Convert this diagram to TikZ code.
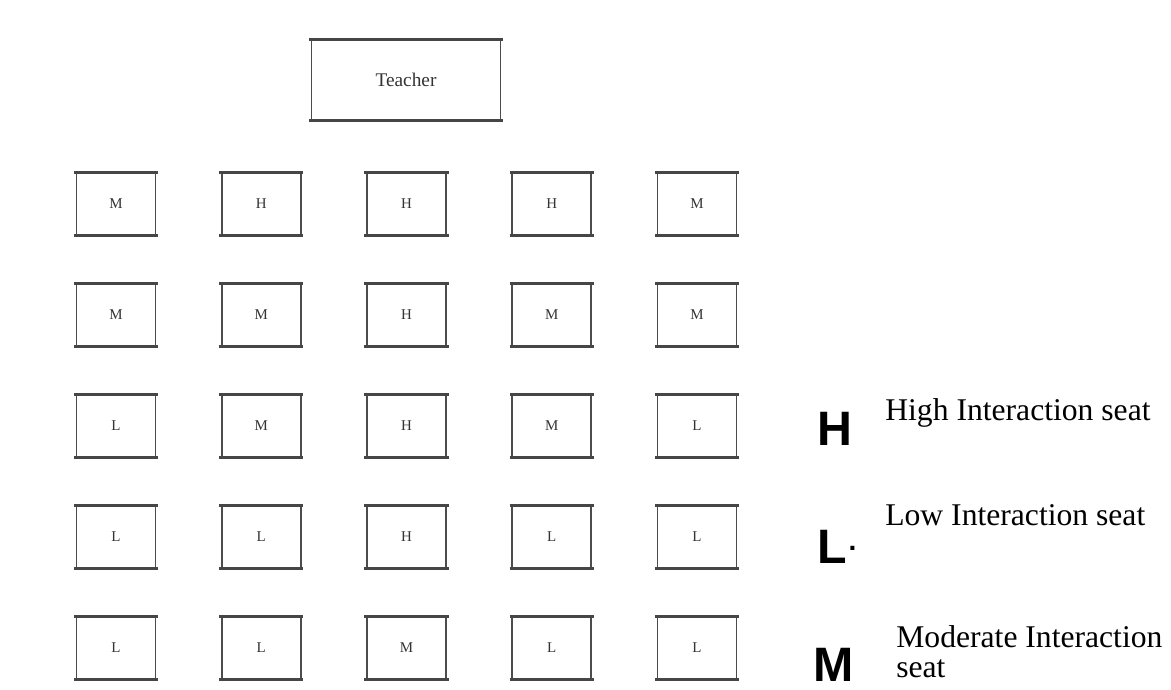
\documentclass[tikz,border=0pt]{standalone}
\usepackage{fontspec}
\setmainfont{Liberation Serif}
\newfontfamily\legendsans{Liberation Sans}

\begin{document}
\begin{tikzpicture}[
  x=0.02cm, y=-0.02cm,
  seat/.style={draw=gray!60!black, line width=0.9pt, minimum width=1.58cm,
    minimum height=1.22cm, inner sep=0pt, text=gray!40!black,
    font=\fontsize{8.5}{10}\selectfont},
  desk/.style={draw=gray!60!black, line width=1pt, minimum width=3.78cm,
    minimum height=1.6cm, inner sep=0pt, text=gray!40!black,
    font=\fontsize{11}{13}\selectfont},
  rim/.style={draw=gray!55!black, line width=1.8pt},
  symbol/.style={inner sep=0pt, font=\legendsans\bfseries\fontsize{27.5}{30}\selectfont},
  legend/.style={inner sep=0pt, anchor=base west, align=left,
    font=\fontsize{18}{17}\selectfont}
]
\useasboundingbox (0,0) rectangle (1171,690);

% Teacher
\node[desk] (teacher) at (406,80) {Teacher};
\draw[rim] ([xshift=-1pt]teacher.north west) -- ([xshift=1pt]teacher.north east);
\draw[rim] ([xshift=-1pt]teacher.south west) -- ([xshift=1pt]teacher.south east);

% Seats, row by row
\foreach \row/\labels in {1/{M,H,H,H,M}, 2/{M,M,H,M,M}, 3/{L,M,H,M,L},
                          4/{L,L,H,L,L}, 5/{L,L,M,L,L}} {
  \foreach \lab [count=\col] in \labels {
    \node[seat] (s-\row-\col) at ({116+145.25*(\col-1)},{204+111*(\row-1)}) {\lab};
    \draw[rim] ([xshift=-1pt]s-\row-\col.north west) -- ([xshift=1pt]s-\row-\col.north east);
    \draw[rim] ([xshift=-1pt]s-\row-\col.south west) -- ([xshift=1pt]s-\row-\col.south east);
  }
}

% Legend
\node[symbol, anchor=base] (key-h) at (835,445) {H};
\node[legend] (txt-h) at (885,420) {High Interaction seat};
\node[symbol, anchor=base west] (key-l) at (817,563)
  {L\hspace{1pt}\raisebox{7pt}{\fontsize{16}{16}\selectfont .}};
\node[legend] (txt-l) at (885,525) {Low Interaction seat};
\node[symbol, anchor=base] (key-m) at (834,681) {M};
\node[legend] (txt-m) at (896,677) {Moderate Interaction\\seat};
\end{tikzpicture}
\end{document}
